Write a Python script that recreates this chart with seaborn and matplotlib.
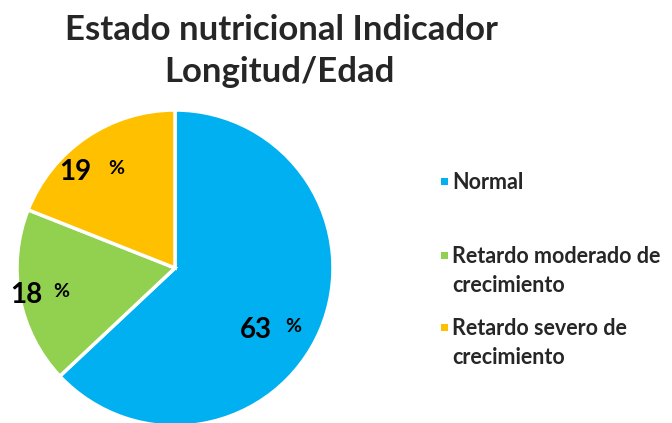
import matplotlib
matplotlib.use("Agg")
import matplotlib.pyplot as plt
from matplotlib.patches import Rectangle
import seaborn as sns

sns.set_theme(style="white")
plt.rcParams['font.family'] = ['Lato', 'DejaVu Sans']

categorias = ["Normal", "Retardo moderado de\ncrecimiento", "Retardo severo de\ncrecimiento"]
porcentajes = [63, 18, 19]
colores = ["#00B0F0", "#92D050", "#FFC000"]

W, H = 672, 423
fig = plt.figure(figsize=(W / 100, H / 100), dpi=100)

# pie: centre (175, 268) px, radius 158 px
cx, cy, r = 175, 268, 158
ax = fig.add_axes([(cx - r) / W, (H - cy - r) / H, 2 * r / W, 2 * r / H])
wedges, _ = ax.pie(porcentajes, colors=colores, startangle=90, counterclock=False,
                   wedgeprops=dict(edgecolor="white", linewidth=2.5))
for w in wedges:
    w.set_clip_on(False)
ax.set_xlim(-1, 1)
ax.set_ylim(-1, 1)
ax.set_aspect("equal")
ax.axis("off")

# label positions (number, percent sign) in pie units
pos_num = [(0.51, -0.39), (-0.94, -0.17), (-0.63, 0.61)]
pos_pct = [(0.75, -0.37), (-0.72, -0.15), (-0.37, 0.63)]
for v, (nx, ny), (px, py) in zip(porcentajes, pos_num, pos_pct):
    ax.text(nx, ny, str(v), ha="center", va="center", fontsize=20, fontweight="bold", color="black")
    ax.text(px, py, "%", ha="center", va="center", fontsize=14, fontweight="bold", color="black")

fig.text(281 / W, 1 - 30 / H, "Estado nutricional Indicador", ha="center", va="center",
         fontsize=25, fontweight="bold")
fig.text(279 / W, 1 - 72 / H, "Longitud/Edad", ha="center", va="center",
         fontsize=25, fontweight="bold")

# legend, drawn by hand so the square sits on the first line
ley_y = [183, 257, 329]
for lab, c, y in zip(categorias, colores, ley_y):
    fig.add_artist(Rectangle((441 / W, 1 - (y + 2) / H), 7 / W, 7 / H,
                             transform=fig.transFigure, facecolor=c, edgecolor="none"))
    fig.text(452 / W, 1 - (y - 11) / H, lab, ha="left", va="top", fontsize=15.5,
             fontweight="bold", linespacing=1.5)

fig.savefig("out.png", dpi=100)
